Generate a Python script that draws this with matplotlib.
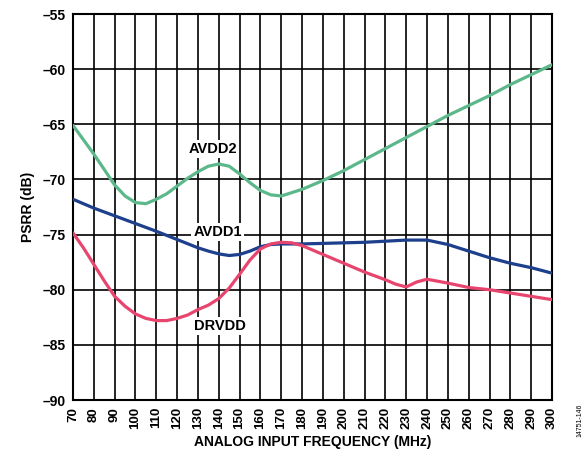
import matplotlib
matplotlib.use("Agg")
import matplotlib.pyplot as plt

plt.rcParams['font.family'] = ['Liberation Sans', 'DejaVu Sans']

freq_avdd2 = [70, 75, 80, 85, 90, 95, 100, 105, 110, 115, 120, 125, 130, 135,
              140, 145, 150, 155, 160, 165, 170, 175, 180, 190, 200, 210, 220,
              230, 240, 250, 260, 270, 280, 290, 300]
avdd2 = [-65.1, -66.4, -67.7, -69.1, -70.5, -71.5, -72.1, -72.2, -71.8, -71.3,
         -70.6, -69.9, -69.3, -68.8, -68.6, -68.8, -69.5, -70.3, -71.0, -71.4,
         -71.5, -71.2, -70.9, -70.1, -69.2, -68.2, -67.2, -66.2, -65.2, -64.2,
         -63.3, -62.4, -61.4, -60.5, -59.6]

freq_avdd1 = [70, 80, 90, 100, 110, 120, 130, 135, 140, 145, 150, 155, 160,
              165, 170, 180, 190, 200, 210, 220, 230, 240, 250, 260, 270, 280,
              290, 300]
avdd1 = [-71.8, -72.6, -73.3, -74.0, -74.7, -75.45, -76.2, -76.5, -76.75, -76.9,
         -76.8, -76.5, -76.1, -75.9, -75.85, -75.85, -75.8, -75.75, -75.7, -75.6,
         -75.5, -75.5, -75.9, -76.5, -77.1, -77.6, -78.0, -78.5]

freq_drvdd = [70, 75, 80, 85, 90, 95, 100, 105, 110, 115, 120, 125, 130, 135,
              140, 145, 150, 155, 160, 165, 170, 175, 180, 190, 200, 210, 220,
              225, 230, 235, 240, 250, 260, 270, 280, 290, 300]
drvdd = [-74.85, -76.2, -77.7, -79.2, -80.6, -81.5, -82.2, -82.6, -82.8, -82.8,
         -82.6, -82.3, -81.8, -81.4, -80.8, -79.85, -78.6, -77.3, -76.3, -75.85,
         -75.7, -75.75, -76.0, -76.8, -77.6, -78.4, -79.1, -79.5, -79.75, -79.3,
         -79.05, -79.4, -79.8, -80.0, -80.3, -80.6, -80.9]

xticks = list(range(70, 301, 10))
yticks = [-90, -85, -80, -75, -70, -65, -60, -55]

fig = plt.figure(figsize=(5.88, 4.68), dpi=100)
ax = fig.add_axes([73/588, 1-400/468, (552-73)/588, (400-14)/468])

ax.set_xlim(70, 300)
ax.set_ylim(-90, -55)
ax.set_xticks(xticks)
ax.set_yticks(yticks)
ax.set_xticklabels([str(v) for v in xticks], rotation=90, fontsize=9.5, fontweight='bold')
ax.set_yticklabels(['\u2013' + str(abs(v)) for v in yticks], fontsize=10, fontweight='bold')
ax.tick_params(length=0, pad=5)
ax.grid(True, color='black', linewidth=1.2)
ax.set_axisbelow(True)
for s in ax.spines.values():
    s.set_linewidth(1.5)
    s.set_color('black')

style = dict(lw=2.3, zorder=3, solid_joinstyle='round', solid_capstyle='round')
ax.plot(freq_avdd2, avdd2, color='#5cb88a', **style)
ax.plot(freq_avdd1, avdd1, color='#1d3f8c', **style)
ax.plot(freq_drvdd, drvdd, color='#e8456e', **style)

bbox = dict(facecolor='white', edgecolor='none', pad=1.5)
ax.text(137, -67.2, 'AVDD2', fontsize=10.5, fontweight='bold', ha='center', va='center', bbox=bbox, zorder=4)
ax.text(139.5, -74.8, 'AVDD1', fontsize=10.5, fontweight='bold', ha='center', va='center', bbox=bbox, zorder=4)
ax.text(140.5, -83.3, 'DRVDD', fontsize=10.5, fontweight='bold', ha='center', va='center', bbox=bbox, zorder=4)

ax.set_xlabel('ANALOG INPUT FREQUENCY (MHz)', fontsize=10, fontweight='bold', labelpad=4)
ax.set_ylabel('PSRR (dB)', fontsize=10, fontweight='bold', labelpad=6)

fig.text(580/588, 1-420/468, '14751-146', rotation=90, fontsize=5, ha='center', va='center')

fig.savefig('out.png', dpi=100)
